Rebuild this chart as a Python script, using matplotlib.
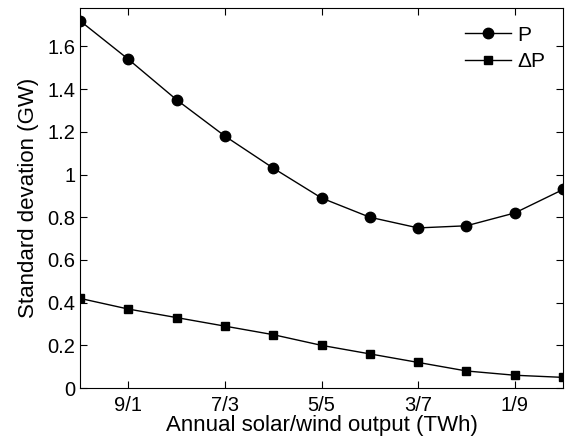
import numpy as np
import matplotlib.pyplot as plt

plt.rcParams['font.family'] = ['Liberation Sans', 'DejaVu Sans']

x = np.arange(11)
p = [1.72, 1.54, 1.35, 1.18, 1.03, 0.89, 0.80, 0.75, 0.76, 0.82, 0.93]
dp = [0.42, 0.37, 0.33, 0.29, 0.25, 0.20, 0.16, 0.12, 0.08, 0.06, 0.05]
tick_pos = [1, 3, 5, 7, 9]
tick_labels = ['9/1', '7/3', '5/5', '3/7', '1/9']

fig = plt.figure(figsize=(5.65, 4.44), dpi=100)
ax = fig.add_axes([0.1416, 0.126, 0.855, 0.856])

ax.plot(x, p, 'k-', marker='o', markersize=7.5, linewidth=1, label='P')
ax.plot(x, dp, 'k-', marker='s', markersize=5.5, linewidth=1, label='\u0394P')

ax.set_xlim(0, 10)
ax.set_ylim(0, 1.78)
ax.set_xticks(tick_pos)
ax.set_xticklabels(tick_labels)
ax.set_yticks(np.arange(0, 1.61, 0.2))
ax.set_yticklabels(['0', '0.2', '0.4', '0.6', '0.8', '1', '1.2', '1.4', '1.6'])
ax.tick_params(direction='in', top=True, right=True, labelsize=14.5, length=5, width=0.8)
ax.tick_params(axis='x', pad=6)
for s in ax.spines.values():
    s.set_linewidth(0.8)

ax.set_xlabel('Annual solar/wind output (TWh)', fontsize=16, labelpad=0)
ax.set_ylabel('Standard devation (GW)', fontsize=16, labelpad=6)
ax.legend(loc='upper right', frameon=False, fontsize=15, handlelength=2.2,
          handletextpad=0.3, borderaxespad=0.45, labelspacing=0.35)

fig.savefig('out.png', dpi=100)
